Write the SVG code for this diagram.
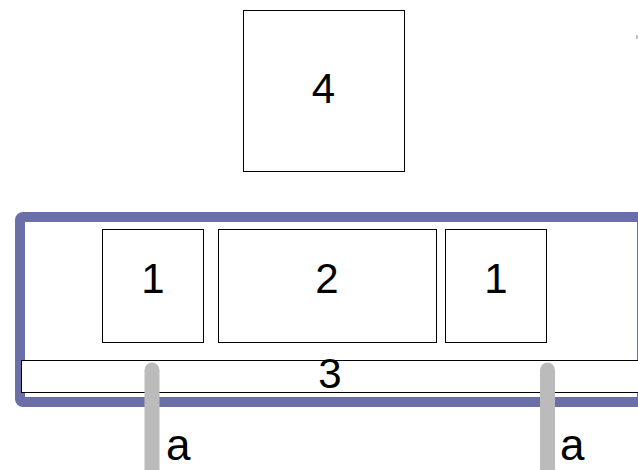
<svg xmlns="http://www.w3.org/2000/svg" width="638" height="470" viewBox="0 0 638 470">
<style>
.box{fill:#fff;stroke:#000;stroke-width:1}
.lbl{font-family:"Liberation Sans",Arial,sans-serif;font-size:42px;fill:#000;text-anchor:middle}
.alb{font-family:"Liberation Sans",Arial,sans-serif;font-size:44px;fill:#000}
.bar{stroke:#bbbbbb;stroke-width:15;stroke-linecap:round;fill:none}
</style>
<rect width="638" height="470" fill="#fff"/>
<g id="frame">
<rect x="20" y="217" width="622" height="185" rx="3" fill="#fff" stroke="#6b6fa8" stroke-width="10"/>
</g>
<g id="node4">
<rect class="box" x="243.5" y="10.5" width="161" height="161"/>
<text class="lbl" x="323.5" y="103">4</text>
</g>
<g id="node1a">
<rect class="box" x="102.5" y="229.5" width="101" height="113"/>
<text class="lbl" x="153" y="293">1</text>
</g>
<g id="node2">
<rect class="box" x="218.5" y="229.5" width="218" height="113"/>
<text class="lbl" x="327" y="293">2</text>
</g>
<g id="node1b">
<rect class="box" x="445.5" y="229.5" width="101" height="113"/>
<text class="lbl" x="496" y="293">1</text>
</g>
<g id="node3">
<rect class="box" x="21.5" y="360.5" width="630" height="32"/>
<text class="lbl" x="330" y="388">3</text>
</g>
<g id="connectors">
<line class="bar" x1="152" y1="370" x2="152" y2="480"/>
<line class="bar" x1="547.5" y1="370" x2="547.5" y2="480"/>
</g>
<g id="labels">
<text class="alb" x="166" y="460">a</text>
<text class="alb" x="560" y="460">a</text>
</g>
<rect x="636.5" y="35" width="1" height="4" fill="#888"/>
</svg>
